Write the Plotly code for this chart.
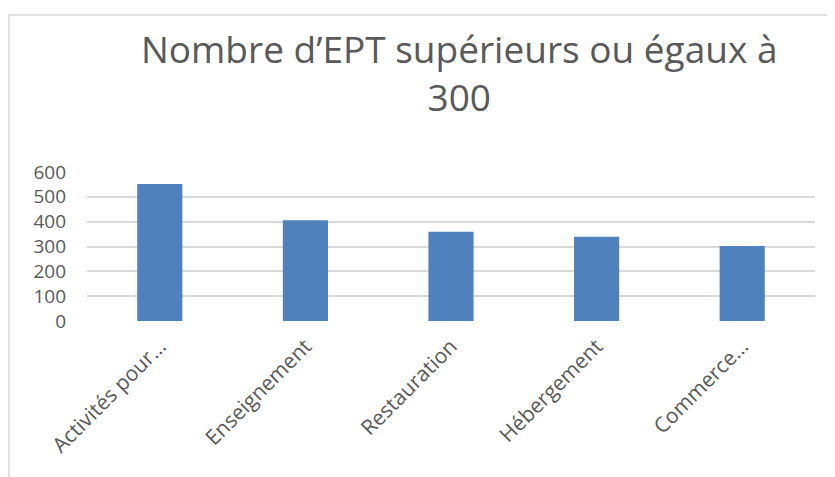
import plotly.graph_objects as go

categories = ["Activités pour…", "Enseignement", "Restauration", "Hébergement", "Commerce…"]
values = [552, 406, 359, 339, 302]
y_ticks = [0, 100, 200, 300, 400, 500, 600]
title_text = "Nombre d’EPT supérieurs ou égaux à<br>300"

OFF = 8  # page body margin offset
W, H = 835, 477
L, T = 87 - OFF, 172 - OFF
R = 20 + OFF
B = H - (321 - OFF)
pw, ph = W - L - R, H - T - B

fig = go.Figure(go.Bar(
    x=categories, y=values,
    marker=dict(color="#4f81bd", line=dict(width=0)),
    width=0.31,
))

fig.update_layout(
    width=W, height=H,
    margin=dict(l=L, r=R, t=T, b=B),
    paper_bgcolor="white", plot_bgcolor="white",
    showlegend=False,
    font=dict(family="Open Sans, sans-serif", color="#595959"),
    xaxis=dict(tickangle=-45, tickfont=dict(size=21, color="#595959"),
               showgrid=False, zeroline=False, showline=False, ticks="",
               ticklabelstandoff=8),
    yaxis=dict(range=[0, 600], tickvals=y_ticks, tickfont=dict(size=19, color="#595959"),
               showgrid=True, gridcolor="#d9d9d9", gridwidth=1.5, zeroline=False,
               showline=False, ticks="", ticklabelstandoff=20),
    shapes=[dict(type="rect", xref="paper", yref="paper",
                 x0=(1 - L) / pw, x1=(W + 40 - L) / pw,
                 y0=-(B + 40) / ph, y1=1 + (T - (15 - OFF)) / ph,
                 line=dict(color="#d9d9d9", width=1.5), fillcolor="rgba(0,0,0,0)", layer="below")],
    annotations=[dict(text=title_text, xref="paper", yref="paper",
                      x=(459 - OFF - L) / pw, y=1 + (T - (72 - OFF)) / ph,
                      xanchor="center", yanchor="middle", showarrow=False,
                      font=dict(size=37, color="#595959", family="Open Sans, sans-serif"))],
)

fig.write_html("out.html")
